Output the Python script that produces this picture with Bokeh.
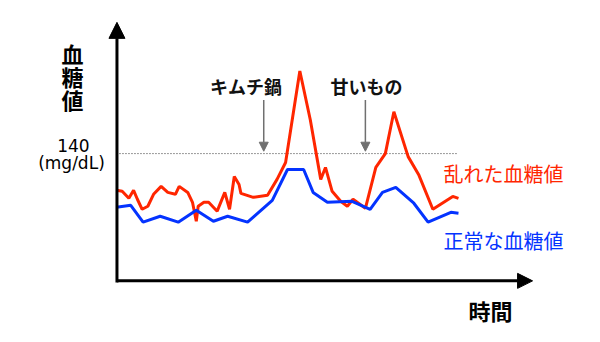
from bokeh.plotting import figure
from bokeh.models import Range1d, Arrow, NormalHead, Label
from bokeh.embed import file_html
from bokeh.resources import INLINE

# ---- data (time in minutes, glucose in mg/dL) ----
red_t = [0, 6, 13, 18, 22, 27, 33, 39, 47, 54, 62, 66, 75, 80, 84, 86, 92, 97,
         106, 114, 119, 124, 129, 131, 144, 159, 169, 178, 193, 204, 215, 220,
         227, 236, 243, 249, 262, 273, 283, 292, 307, 318, 333, 354, 360]
red_v = [116.9, 116.3, 111.9, 116.9, 111.3, 105.0, 106.9, 114.4, 119.4, 115.6,
         114.4, 119.4, 115.6, 109.4, 97.5, 106.9, 109.4, 109.4, 103.8, 115.6,
         105.0, 125.6, 120.6, 115.0, 112.5, 113.8, 123.8, 134.4, 191.9, 161.3,
         123.8, 131.3, 116.3, 110.0, 106.9, 111.3, 105.6, 131.3, 140.0, 166.3,
         138.1, 126.9, 105.0, 113.1, 111.9]
blue_t = [0, 15, 28, 46, 65, 84, 102, 117, 138, 164, 180, 197, 207, 222, 248,
          267, 280, 294, 313, 328, 352, 360]
blue_v = [106.3, 107.5, 96.9, 100.6, 96.9, 104.4, 97.5, 100.6, 96.9, 110.6,
          130.0, 130.0, 115.6, 109.4, 110.0, 105.0, 115.6, 118.8, 108.8, 96.9,
          103.1, 102.5]
threshold = 140
threshold_label = ["140", "(mg/dL)"]
events = ["キムチ鍋", "甘いもの"]
event_t = [155, 262]
series_names = ["乱れた血糖値", "正常な血糖値"]
y_title = ["血", "糖", "値"]
x_title = "時間"

RED = "#FF2600"
BLUE = "#0433FF"
GRAY = "#707070"
JP = "Noto Sans CJK JP"

# axis extents
Y_BASE = 60
Y_TOP = 222.5
X_END = 438
T_END = 360

p = figure(width=600, height=342, output_backend="svg", toolbar_location=None,
           x_range=Range1d(-122.1, 509.5), y_range=Range1d(21.25, 236.25),
           min_border=0)
p.axis.visible = False
p.grid.visible = False
p.outline_line_color = None
p.background_fill_color = "white"

# threshold dotted line
p.line([0, T_END], [threshold, threshold], line_color="#333333",
       line_width=1, line_dash="1 2")

# series
p.line(red_t, red_v, line_color=RED, line_width=3)
p.line(blue_t, blue_v, line_color=BLUE, line_width=3)

# axes with arrows
p.add_layout(Arrow(end=NormalHead(size=16, fill_color="black", line_color="black"),
                   x_start=0.5, y_start=Y_BASE - 1, x_end=0.5, y_end=Y_TOP,
                   line_color="black", line_width=3))
p.add_layout(Arrow(end=NormalHead(size=15, fill_color="black", line_color="black"),
                   x_start=0.5, y_start=Y_BASE, x_end=X_END, y_end=Y_BASE,
                   line_color="black", line_width=3))

# event arrows + labels
ev_text_t = [136.3, 263.2]
for name, t, tt in zip(events, event_t, ev_text_t):
    p.add_layout(Arrow(end=NormalHead(size=9, fill_color=GRAY, line_color=GRAY),
                       x_start=t, y_start=173.75, x_end=t, y_end=141.5,
                       line_color=GRAY, line_width=1.5))
    p.add_layout(Label(x=tt, y=182.5, text=name, text_font=JP,
                       text_font_style="bold", text_font_size="18px",
                       text_align="center", text_baseline="middle",
                       text_color="#111111"))

# y title (vertical)
for i, ch in enumerate(y_title):
    p.add_layout(Label(x=-46.3, y=203.1 - i * 14.4, text=ch, text_font=JP,
                       text_font_style="bold", text_font_size="22px",
                       text_align="center", text_baseline="middle",
                       text_color="black"))

# threshold label
p.add_layout(Label(x=-45.3, y=145.3, text=threshold_label[0], text_font="DejaVu Sans",
                   text_font_size="17px", text_align="center", text_baseline="middle",
                   text_color="black"))
p.add_layout(Label(x=-47.4, y=134.0, text=threshold_label[1], text_font="DejaVu Sans",
                   text_font_size="17px", text_align="center", text_baseline="middle",
                   text_color="black"))

# series labels
p.add_layout(Label(x=344.2, y=127.8, text=series_names[0], text_font=JP,
                   text_font_size="20px", text_align="left", text_baseline="middle",
                   text_color=RED))
p.add_layout(Label(x=344.2, y=85.3, text=series_names[1], text_font=JP,
                   text_font_size="20px", text_align="left", text_baseline="middle",
                   text_color=BLUE))

# x title
p.add_layout(Label(x=393.7, y=41.9, text=x_title, text_font=JP,
                   text_font_style="bold", text_font_size="22px",
                   text_align="center", text_baseline="middle",
                   text_color="black"))

open("out.html", "w").write(file_html(p, INLINE))
